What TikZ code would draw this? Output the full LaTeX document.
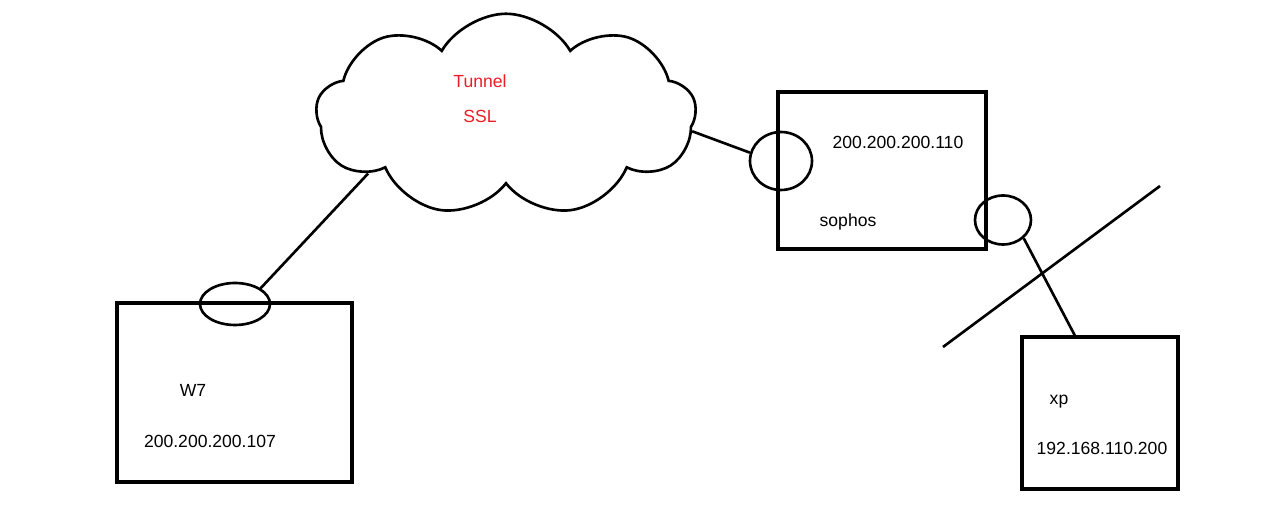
\documentclass[tikz,border=0pt]{standalone}
\usepackage{fontspec}
\setmainfont{Liberation Sans}
\usetikzlibrary{shapes.geometric,shapes.symbols}
\definecolor{rojo}{RGB}{237,28,36}
\begin{document}
\begin{tikzpicture}[x=0.02cm, y=-0.02cm, line width=1.5pt,
    caja/.style={draw, rectangle, line width=1.9pt, inner sep=0pt},
    puerto/.style={draw, ellipse, inner sep=0pt},
    texto/.style={font=\fontsize{10}{12}\selectfont, inner sep=0pt}]
    \useasboundingbox (0,0) rectangle (1279,516);

    % Nube del túnel
    \node[draw, cloud, cloud puffs=9, cloud puff arc=120, aspect=1.9,
          minimum width=7.6cm, minimum height=4.05cm, inner sep=0pt] (tunel) at (506,115) {};
    \node[texto, text=rojo] (tuneltxt) at (480,81) {Tunnel};
    \node[texto, text=rojo] (ssltxt) at (480,116) {SSL};

    % Equipo W7
    \node[caja, minimum width=4.7cm, minimum height=3.58cm] (w7) at (234.5,392.5) {};
    \node[puerto, minimum width=1.4cm, minimum height=0.84cm] (w7port) at (235,304) {};
    \node[texto] (w7name) at (193,390) {W7};
    \node[texto] (w7ip) at (210,441) {200.200.200.107};

    % Sophos
    \node[caja, minimum width=4.16cm, minimum height=3.14cm] (sophos) at (882,170.5) {};
    \node[puerto, minimum width=1.24cm, minimum height=1.16cm] (sophosL) at (781,161) {};
    \node[puerto, minimum width=1.12cm, minimum height=0.98cm] (sophosR) at (1003,220) {};
    \node[texto] (sophosip) at (898,142) {200.200.200.110};
    \node[texto] (sophosname) at (848,222) {sophos};

    % Equipo XP
    \node[caja, minimum width=3.12cm, minimum height=3.04cm] (xp) at (1100,413) {};
    \node[texto] (xpname) at (1059,402) {xp};
    \node[texto] (xpip) at (1102,448) {192.168.110.200};

    % Conexiones
    \draw (w7port.north east) -- (tunel.203);
    \draw (tunel.-5) -- (sophosL.165);
    \draw (sophosR.south east) -- (xp.108);

    % Red local
    \coordinate (redA) at (943,347);
    \coordinate (redB) at (1160,186);
    \draw (redA) -- (redB);
\end{tikzpicture}
\end{document}
